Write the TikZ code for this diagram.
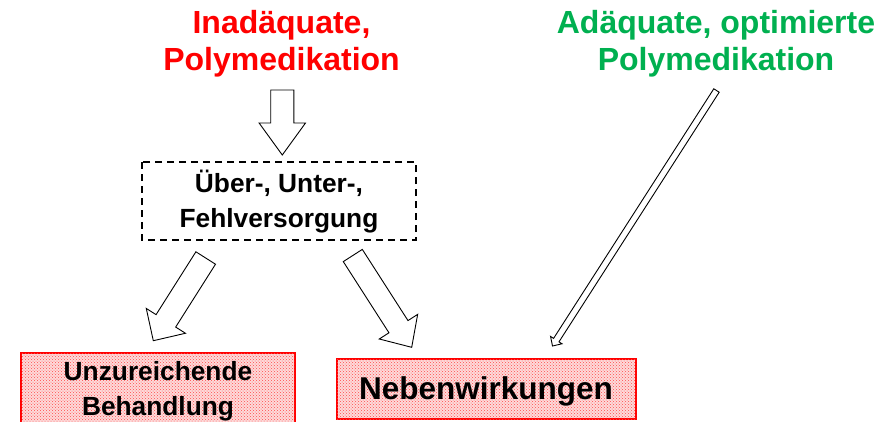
\documentclass[tikz,border=0pt]{standalone}
\usepackage{fontspec}
\setmainfont{Liberation Sans}
\usetikzlibrary{calc,patterns}
\definecolor{tgreen}{RGB}{0,176,80}
\definecolor{tred}{RGB}{255,0,0}
\tikzset{
  blockarr/.style={draw=black, line width=0.9pt, fill=white, line join=miter},
  redbox/.style={draw=tred, line width=1.2pt, fill={rgb,255:red,253;green,218;blue,218},
    postaction={pattern=crosshatch dots, pattern color=tred!70}},
  dashbox/.style={draw=black, line width=1.3pt, dash pattern=on 7pt off 5pt},
  titletxt/.style={font=\fontsize{32}{37}\selectfont\bfseries, align=center, inner sep=0pt},
  boxtxt/.style={font=\fontsize{26.3}{35}\selectfont\bfseries, align=center, inner sep=0pt},
}
% #1 start, #2 end, #3 shaft half width, #4 head half width, #5 head length
\newcommand\blockarrow[5]{%
  \coordinate (ba-h) at ($(#2)!#5!(#1)$);
  \draw[blockarr] ($(#1)!#3!90:(#2)$) -- ($(ba-h)!#3!-90:(#1)$) -- ($(ba-h)!#4!-90:(#1)$)
     -- (#2) -- ($(ba-h)!#4!90:(#1)$) -- ($(ba-h)!#3!90:(#1)$) -- ($(#1)!#3!-90:(#2)$) -- cycle;
}
\begin{document}
\begin{tikzpicture}[x=1pt,y=-1pt]
\useasboundingbox (0,0) rectangle (895,421);
\clip (0,0) rectangle (895,421);

% titles
\node[titletxt, text=tred] (inad) at (281.5,44) {Inadäquate,\\Polymedikation};
\node[titletxt, text=tgreen] (adaq) at (716,44) {Adäquate, optimierte\\Polymedikation};

% middle dashed box
\draw[dashbox] (142,162) rectangle (416,240);
\node[boxtxt] (mid) at (279,202) {Über-, Unter-,\\Fehlversorgung};

% bottom boxes
\draw[redbox] (21,353) rectangle (295,440);
\node[boxtxt] (unz) at (158,391) {Unzureichende\\Behandlung};
\draw[redbox] (337,359) rectangle (636,419);
\node[font=\fontsize{31.5}{36}\selectfont\bfseries, inner sep=0pt] (neben) at (486,391) {Nebenwirkungen};

% connector coordinates
\coordinate (a1s) at (282.3,90);   \coordinate (a1e) at (282.3,155);
\coordinate (a2s) at (205.7,258);  \coordinate (a2e) at (153.3,340.7);
\coordinate (a3s) at (352.8,255.5); \coordinate (a3e) at (411.7,347.3);
\coordinate (a4s) at (716.5,90.5); \coordinate (a4e) at (552.5,346);

\blockarrow{a1s}{a1e}{11.6pt}{23.2pt}{32pt}
\blockarrow{a2s}{a2e}{11.6pt}{23.2pt}{23.5pt}
\blockarrow{a3s}{a3e}{11.3pt}{22.8pt}{24.5pt}
\blockarrow{a4s}{a4e}{3.2pt}{6.8pt}{7pt}
\end{tikzpicture}
\end{document}
